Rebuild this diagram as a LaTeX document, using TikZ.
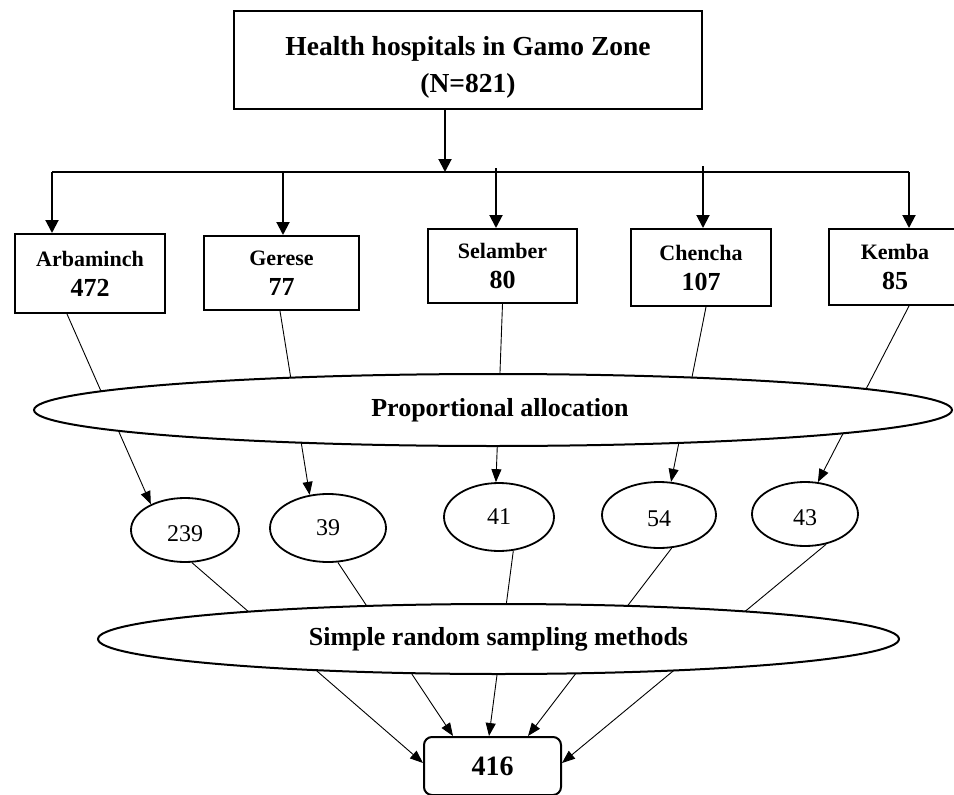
\documentclass[tikz,border=0pt]{standalone}
\usepackage{fontspec}
\setmainfont{Liberation Serif}
\usetikzlibrary{shapes.geometric,arrows.meta}
\pgfdeclarelayer{bg}
\pgfsetlayers{bg,main}
\tikzset{
  box/.style={draw, line width=2pt, fill=white, rectangle, inner sep=0pt, align=center,
    font=\bfseries\fontsize{22}{30}\selectfont},
  oval/.style={draw, ellipse, line width=2pt, fill=white, inner sep=0pt,
    font=\bfseries\fontsize{26}{30}\selectfont},
  numoval/.style={draw, ellipse, line width=1.8pt, fill=white, inner sep=0pt,
    font=\fontsize{24}{28}\selectfont},
  bigarrow/.style={line width=2pt, -{Triangle[length=13pt, width=13pt]}},
  busline/.style={line width=2pt},
  thinarrow/.style={line width=0.9pt, -{Triangle[length=13pt, width=10pt]}}
}
\newcommand{\bignum}[1]{{\fontsize{26}{30}\selectfont #1}}
\newcommand{\lowered}[1]{\raisebox{-4pt}[\height][\depth]{#1}}
\begin{document}
\begin{tikzpicture}[x=1pt, y=-1pt]
\useasboundingbox (0,0) rectangle (954,795);
\clip (0,0) rectangle (954,795);

% top box
\node[box, minimum width=468pt, minimum height=98pt,
      font=\bfseries\fontsize{27.5}{37}\selectfont] (title) at (468,60)
  {\rule{0pt}{33pt}Health hospitals in Gamo Zone\\(N=821)};

% bus coordinates
\coordinate (hub) at (445,172);
\coordinate (busL) at (52,172);
\coordinate (busR) at (909,172);
\coordinate (tArb) at (52,172);
\coordinate (tGer) at (283,172);
\coordinate (tSel) at (496,168);
\coordinate (tChe) at (703,166);
\coordinate (tKem) at (909,172);

% district boxes
\node[box, minimum width=150pt, minimum height=79pt] (arb) at (90,273.5) {Arbaminch\\\bignum{472}};
\node[box, minimum width=155pt, minimum height=74pt] (ger) at (281.5,273) {Gerese\\\bignum{77}};
\node[box, minimum width=149pt, minimum height=74pt] (sel) at (502.5,266) {Selamber\\\bignum{80}};
\node[box, minimum width=140pt, minimum height=77pt] (che) at (701,267.5) {Chencha\\\bignum{107}};
\node[box, minimum width=132pt, minimum height=76pt] (kem) at (895,267) {Kemba\\\bignum{85}};

% proportional allocation
\node[oval, minimum width=918pt, minimum height=72pt] (prop) at (493,410) {\hspace*{14pt}Proportional allocation};

% sample sizes
\node[numoval, minimum width=108pt, minimum height=64pt] (c239) at (185,530) {\lowered{239}};
\node[numoval, minimum width=116pt, minimum height=68pt] (c39) at (328,528) {39};
\node[numoval, minimum width=110pt, minimum height=68pt] (c41) at (499,517) {41};
\node[numoval, minimum width=114pt, minimum height=66pt] (c54) at (659,515) {\lowered{54}};
\node[numoval, minimum width=106pt, minimum height=64pt] (c43) at (805,514) {\lowered{43}};

% simple random sampling
\node[oval, minimum width=801pt, minimum height=70pt] (srs) at (498.5,639) {Simple random sampling methods};

% result
\node[box, rounded corners=8pt, minimum width=137pt, minimum height=58pt,
      font=\bfseries\fontsize{28}{32}\selectfont] (res) at (492.5,766) {416};

\begin{pgfonlayer}{bg}
  \draw[bigarrow] ([xshift=-23pt]title.south) -- (hub);
  \draw[busline] (busL) -- (busR);
  \draw[bigarrow] (tArb) -- (tArb |- arb.north);
  \draw[bigarrow] (tGer) -- (tGer |- ger.north);
  \draw[bigarrow] (tSel) -- (tSel |- sel.north);
  \draw[bigarrow] (tChe) -- (tChe |- che.north);
  \draw[bigarrow] (tKem) -- (tKem |- kem.north);

  \draw[thinarrow] ([xshift=-23pt]arb.south) -- (c239.143);
  \draw[thinarrow] ([xshift=-1.5pt]ger.south) -- (c39.119);
  \draw[thinarrow] (sel.south) -- (c41.95);
  \draw[thinarrow] ([xshift=5pt]che.south) -- (c54.70);
  \draw[thinarrow] ([xshift=14pt]kem.south) -- (c43.68);

  \draw[thinarrow] (c239.-78) -- ([yshift=3pt]res.west);
  \draw[thinarrow] (c39.-74) -- ([xshift=-39.5pt]res.north);
  \draw[thinarrow] (c41.-67) -- ([xshift=-3.5pt]res.north);
  \draw[thinarrow] (c54.-69) -- ([xshift=35.5pt]res.north);
  \draw[thinarrow] (c43.-55) -- ([yshift=3pt]res.east);
\end{pgfonlayer}
\end{tikzpicture}
\end{document}
